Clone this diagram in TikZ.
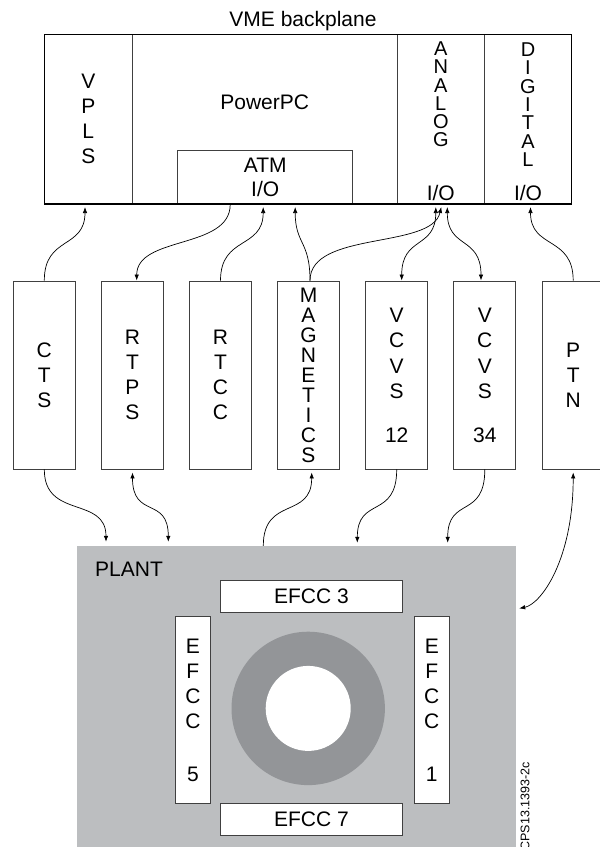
\documentclass[tikz,border=0pt]{standalone}
\usepackage{fontspec}
\setmainfont{Liberation Sans}
\usepackage{xcolor}
\usetikzlibrary{arrows.meta}

\definecolor{plantgray}{RGB}{188,190,192}
\definecolor{ringgray}{RGB}{147,149,152}

\begin{document}
\begin{tikzpicture}[x=1pt, y=-1pt,
  txt/.style   = {font=\fontsize{21}{25}\selectfont, align=center, inner sep=0pt},
  tight/.style = {font=\fontsize{20}{18.2}\selectfont, align=center, inner sep=0pt},
  slot/.style  = {draw=black!75, line width=0.9pt, inner sep=0pt},
  mod/.style   = {slot, fill=white, minimum width=62, minimum height=188, txt},
  efcc/.style  = {draw=black!75, line width=0.8pt, fill=white, inner sep=0pt, txt},
  link/.style  = {-{Latex[length=6pt,width=4.5pt]}, line width=0.7pt},
  dlink/.style = {{Latex[length=6pt,width=4.5pt]}-{Latex[length=6pt,width=4.5pt]},
                  line width=0.7pt},
]
\useasboundingbox (0,0) rectangle (600,847);

%% ── VME backplane ───────────────────────────────────────────────────────────
\node[txt, anchor=base] (vmelabel) at (303,26.7) {VME backplane};

\node[slot, txt, minimum width=88, minimum height=169.7] (vpls) at (88.3,119.2)
  {V\\P\\L\\S};
\node[slot, minimum width=265, minimum height=169.7] (ppc) at (264.8,119.2) {};
\node[txt] (ppclabel) at (264.7,102) {PowerPC};
\node[slot, minimum width=175, minimum height=53.7,
      font=\fontsize{21}{24}\selectfont, align=center] (atm) at (265.2,177.2)
  {ATM\\I/O};

\node[slot, minimum width=87, minimum height=169.7] (analog) at (440.8,119.2) {};
\node[tight] (analogname) at (440.8,94.5) {A\\N\\A\\L\\O\\G};
\node[txt] (analogio) at (440.8,193.3) {I/O};

\node[slot, minimum width=87.4, minimum height=169.7] (digital) at (528,119.2) {};
\node[tight, font=\fontsize{20}{18.4}\selectfont] (digitalname) at (528,104.7)
  {D\\I\\G\\I\\T\\A\\L};
\node[txt] (digitalio) at (528,193.3) {I/O};

\node[draw, line width=1.3pt, inner sep=0pt, minimum width=527.4,
      minimum height=169.7] (vme) at (308,119.2) {};

%% ── modules ─────────────────────────────────────────────────────────────────
\node[mod] (cts)    at (44.3,375)  {C\\T\\S};
\node[mod] (rtps)   at (132.5,375) {R\\T\\P\\S};
\node[mod] (rtcc)   at (220.5,375) {R\\T\\C\\C};
\node[mod, font=\fontsize{21}{20}\selectfont] (mag) at (308.5,375)
  {M\\A\\G\\N\\E\\T\\I\\C\\S};
\node[mod, font=\fontsize{21}{25.5}\selectfont] (vcvs12) at (396.7,375)
  {V\\C\\V\\S\\[18pt]12};
\node[mod, font=\fontsize{21}{25.5}\selectfont] (vcvs34) at (484.8,375)
  {V\\C\\V\\S\\[18pt]34};
\node[mod] (ptn)    at (573.2,375) {P\\T\\N};

%% ── plant ───────────────────────────────────────────────────────────────────
\node[fill=plantgray, inner sep=0pt, minimum width=438.7, minimum height=304]
  (plant) at (296.7,698) {};
\node[txt, anchor=west] (plantlabel) at (95,569.5) {PLANT};

\node[circle, fill=ringgray, inner sep=0pt, minimum size=153.4] (ring)
  at (308.2,708.4) {};
\node[circle, fill=white, inner sep=0pt, minimum size=85] (bore) at (ring) {};

\node[efcc, minimum width=181.3, minimum height=31.6] (efcc3) at (311.4,596.5)
  {EFCC 3};
\node[efcc, minimum width=181.3, minimum height=32] (efcc7) at (311.4,819.3)
  {EFCC 7};
\node[efcc, minimum width=35.7, minimum height=186.6] (efcc5) at (192.9,710)
  {E\\F\\C\\C\\[28pt]5};
\node[efcc, minimum width=35, minimum height=186.6] (efcc1) at (431.8,710)
  {E\\F\\C\\C\\[28pt]1};

\node[rotate=90, anchor=east, inner sep=0pt, font=\fontsize{12.5}{14}\selectfont]
  (cpsid) at (525,762) {CPS13.1393-2c};

%% ── links to the backplane ──────────────────────────────────────────────────
\draw[link, shorten >=2.5pt] (cts.north)
  .. controls +(0,-45) and +(0,45) .. ([xshift=-3.3]vpls.south);
\draw[link] ([xshift=-35]atm.south)
  .. controls +(0,45) and +(0,-45) .. ([xshift=4.2]rtps.north);
\draw[link, shorten >=2.5pt] (rtcc.north)
  .. controls +(0,-45) and +(0,45) .. ([xshift=-2]atm.south);
\draw[link, shorten >=2.5pt] ([xshift=1.5]mag.north)
  .. controls +(0,-40) and +(0,40) .. ([xshift=30]atm.south);
\draw[link, shorten >=2.5pt] ([xshift=1.5]mag.north)
  .. controls +(0,-50) and +(-10,45) .. ([xshift=1]analog.south);
\draw[dlink, shorten >=2.5pt] ([xshift=5]vcvs12.north)
  .. controls +(0,-45) and +(0,45) .. ([xshift=-5]analog.south);
\draw[dlink, shorten >=2.5pt] ([xshift=-3.8]vcvs34.north)
  .. controls +(0,-45) and +(0,45) .. ([xshift=6.5]analog.south);
\draw[link, shorten >=2.5pt] (ptn.north)
  .. controls +(0,-45) and +(0,45) .. ([xshift=2.5]digital.south);

%% ── links to the plant ──────────────────────────────────────────────────────
\draw[link, shorten >=4pt] (cts.south)
  .. controls +(0,50) and +(0,-50) .. ([xshift=-190.7]plant.north);
\draw[dlink, shorten <=3pt, shorten >=4pt] (rtps.south)
  .. controls +(0,50) and +(0,-50) .. ([xshift=-128.4]plant.north);
\draw[link, shorten >=3pt] ([xshift=-33.4]plant.north)
  .. controls +(0,-50) and +(0,50) .. ([xshift=3.2]mag.south);
\draw[link, shorten >=3pt] (vcvs12.south)
  .. controls +(0,50) and +(0,-50) .. ([xshift=60.6]plant.north);
\draw[link, shorten >=3pt] (vcvs34.south)
  .. controls +(0,50) and +(0,-50) .. ([xshift=151]plant.north);
\draw[dlink, shorten <=3pt, shorten >=3pt] (ptn.south)
  .. controls +(0,90) and +(25,-5) .. ([yshift=89]plant.east);

\end{tikzpicture}
\end{document}
